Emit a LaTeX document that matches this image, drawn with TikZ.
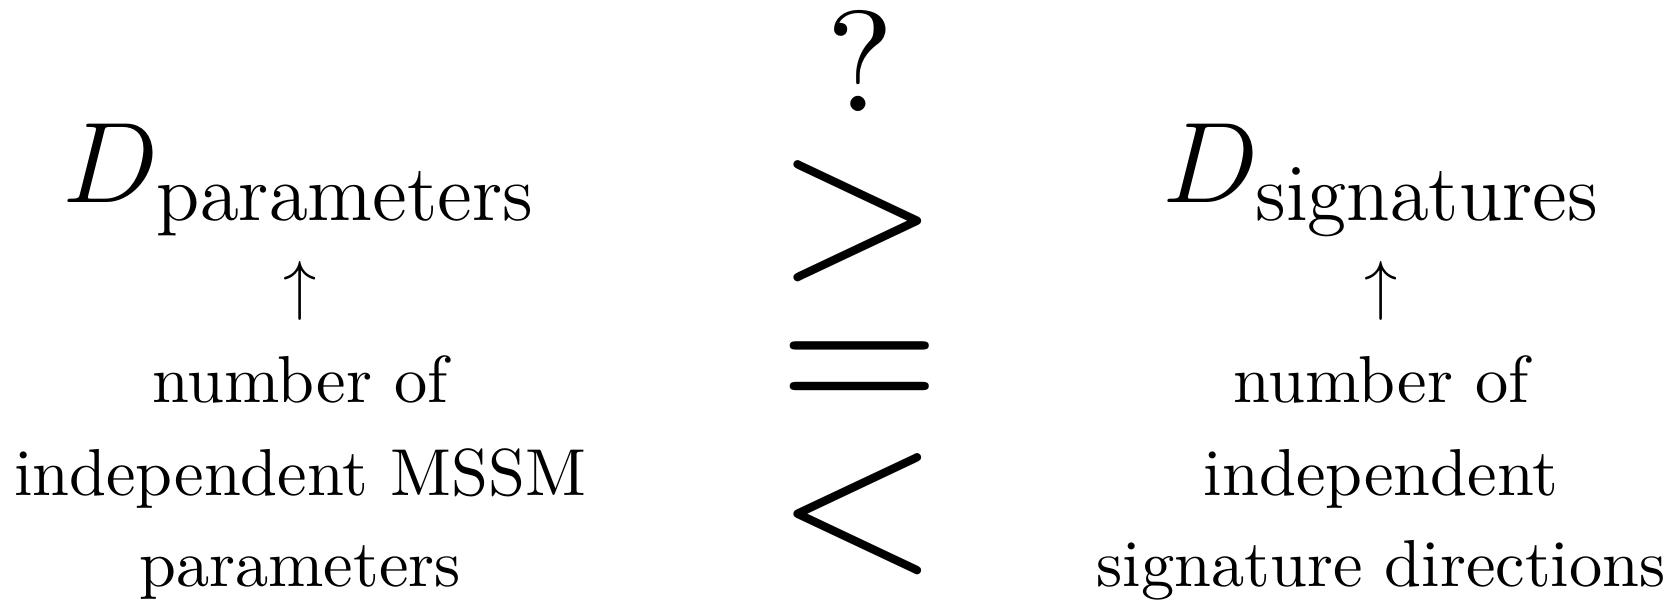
\documentclass[tikz,border=0pt]{standalone}
\usepackage{graphicx}
\begin{document}
\begin{tikzpicture}[x=0.1506pt,y=-0.1506pt,
  txt/.style={inner sep=0pt,anchor=base,font=\fontsize{10}{12}\selectfont},
  big/.style={inner sep=0pt,anchor=base,font=\fontsize{17.28}{20}\selectfont},
  rel/.style={inner sep=0pt,anchor=base}]
\useasboundingbox (0,0) rectangle (1679,601);
% left column
\node[big] (Dp) at (300,203) {$D_{\mathrm{parameters}}$};
\node[txt] (ap) at (300,308) {$\uparrow$};
\node[txt] (l1) at (300,403) {number of};
\node[txt] (l2) at (300,496) {independent MSSM};
\node[txt] (l3) at (300,587) {parameters};
% centre relations
\node[rel] (q)  at (860,112) {\scalebox{2.16}{?}};
\node[rel] (gt) at (858,274) {\scalebox{3.15}{$>$}};
\node[rel] (eq) at (860,419) {\scalebox{3.15}{$=$}};
\node[rel] (lt) at (858,567) {\scalebox{3.15}{$<$}};
% right column
\node[big] (Ds) at (1382,203) {$D_{\mathrm{signatures}}$};
\node[txt] (as) at (1381,308) {$\uparrow$};
\node[txt] (r1) at (1381,403) {number of};
\node[txt] (r2) at (1381,496) {independent};
\node[txt] (r3) at (1381,587) {signature directions};
\end{tikzpicture}
\end{document}
